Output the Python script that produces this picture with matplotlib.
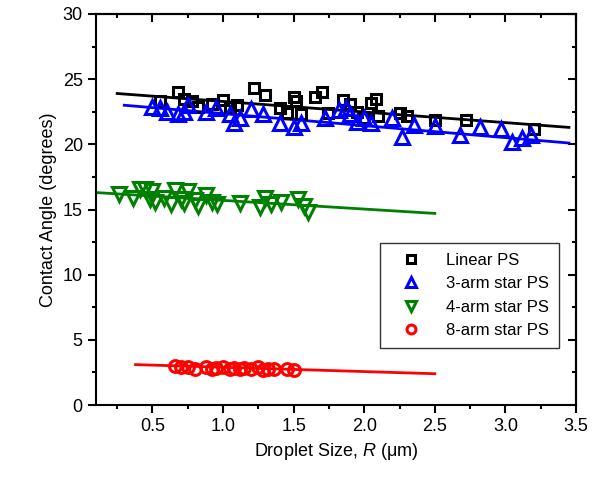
import matplotlib
matplotlib.use("Agg")
import matplotlib.pyplot as plt
import numpy as np

plt.rcParams['font.family'] = ['Liberation Sans', 'DejaVu Sans']
plt.rcParams['mathtext.fontset'] = 'custom'
plt.rcParams['mathtext.it'] = 'Liberation Sans:italic'

# Linear PS
lin_r = [0.55, 0.68, 0.72, 0.78, 0.82, 0.92, 1.0, 1.05, 1.1, 1.22, 1.3,
         1.4, 1.45, 1.5, 1.52, 1.55, 1.65, 1.7, 1.74, 1.85, 1.9, 1.95, 2.0,
         2.05, 2.08, 2.1, 2.25, 2.3, 2.5, 2.72, 3.2]
lin_a = [23.3, 24.0, 23.5, 23.3, 22.9, 23.1, 23.4, 22.9, 23.0, 24.3, 23.8,
         22.8, 22.4, 23.6, 23.3, 22.3, 23.6, 24.0, 22.4, 23.4, 23.1, 22.5, 22.0,
         23.2, 23.5, 22.2, 22.4, 22.2, 21.9, 21.9, 21.2]
lin_fit_r = [0.25, 3.45]
lin_fit_a = [23.9, 21.3]

# 3-arm star PS
s3_r = [0.5, 0.55, 0.6, 0.68, 0.72, 0.75, 0.88, 0.95, 1.05, 1.08, 1.12, 1.2,
        1.28, 1.4, 1.5, 1.55, 1.72, 1.82, 1.87, 1.9, 1.95, 2.0, 2.05, 2.2,
        2.27, 2.35, 2.5, 2.68, 2.82, 2.97, 3.05, 3.12, 3.18]
s3_a = [22.9, 22.8, 22.5, 22.3, 22.5, 23.0, 22.5, 22.8, 22.3, 21.6, 22.0, 22.7,
        22.3, 21.6, 21.3, 21.6, 22.0, 22.6, 22.8, 22.3, 21.7, 22.0, 21.6, 22.0,
        20.6, 21.5, 21.4, 20.7, 21.3, 21.2, 20.2, 20.5, 20.7]
s3_fit_r = [0.3, 3.45]
s3_fit_a = [23.0, 20.1]

# 4-arm star PS
s4_r = [0.26, 0.36, 0.41, 0.45, 0.48, 0.5, 0.52, 0.58, 0.63, 0.66, 0.7, 0.72,
        0.75, 0.8, 0.82, 0.88, 0.92, 0.96, 1.12, 1.26, 1.3, 1.34, 1.41, 1.53,
        1.57, 1.6]
s4_a = [16.2, 15.9, 16.6, 16.6, 15.8, 16.4, 15.6, 15.9, 15.4, 16.5, 15.8, 15.5,
        16.4, 15.7, 15.3, 16.1, 15.6, 15.4, 15.5, 15.2, 15.9, 15.4, 15.6, 15.8,
        15.3, 14.8]
s4_fit_r = [0.1, 2.5]
s4_fit_a = [16.3, 14.7]

# 8-arm star PS
s8_r = [0.66, 0.7, 0.75, 0.8, 0.88, 0.92, 0.95, 1.0, 1.05, 1.08, 1.12, 1.15,
        1.2, 1.25, 1.28, 1.32, 1.36, 1.45, 1.5]
s8_a = [3.0, 2.9, 2.95, 2.8, 2.9, 2.75, 2.85, 2.9, 2.8, 2.85, 2.75, 2.85,
        2.8, 2.9, 2.7, 2.8, 2.75, 2.8, 2.7]
s8_fit_r = [0.38, 2.5]
s8_fit_a = [3.1, 2.4]

fig = plt.figure(figsize=(6.09, 4.83), dpi=100)
ax = fig.add_axes([96 / 609, 1 - 405 / 483, 480 / 609, 391 / 483])

ax.plot(lin_fit_r, lin_fit_a, color='black', lw=2)
ax.plot(s3_fit_r, s3_fit_a, color='blue', lw=2)
ax.plot(s4_fit_r, s4_fit_a, color='green', lw=2)
ax.plot(s8_fit_r, s8_fit_a, color='red', lw=2)

ax.plot(lin_r, lin_a, ls='none', marker='s', ms=7.5, mfc='none', mec='black',
        mew=2.2, label='Linear PS')
ax.plot(s3_r, s3_a, ls='none', marker='^', ms=10.5, mfc='none', mec='blue',
        mew=2.2, label='3-arm star PS')
ax.plot(s4_r, s4_a, ls='none', marker='v', ms=10.5, mfc='none', mec='green',
        mew=2.2, label='4-arm star PS')
ax.plot(s8_r, s8_a, ls='none', marker='o', ms=8.5, mfc='none', mec='red',
        mew=2.2, label='8-arm star PS')

ax.set_xlim(0.1, 3.5)
ax.set_ylim(0, 30)
ax.set_xticks([0.5, 1.0, 1.5, 2.0, 2.5, 3.0, 3.5])
ax.set_xticks(np.arange(0.25, 3.5, 0.5), minor=True)
ax.set_yticks(range(0, 31, 5))
ax.set_yticks(np.arange(2.5, 30, 5), minor=True)
ax.tick_params(which='both', direction='out', labelsize=13, width=1.5)
ax.tick_params(which='major', length=6)
ax.tick_params(which='minor', length=3)

# mirrored ticks on top and right, pointing inward
ax2 = ax.secondary_xaxis('top')
ax2.set_xticks(ax.get_xticks())
ax2.set_xticks(ax.get_xticks(minor=True), minor=True)
ax2.tick_params(which='both', direction='in', labeltop=False, width=1.5)
ax2.tick_params(which='major', length=6)
ax2.tick_params(which='minor', length=3)
ax3 = ax.secondary_yaxis('right')
ax3.set_yticks(ax.get_yticks())
ax3.set_yticks(ax.get_yticks(minor=True), minor=True)
ax3.tick_params(which='both', direction='in', labelright=False, width=1.5)
ax3.tick_params(which='major', length=6)
ax3.tick_params(which='minor', length=3)
for a in (ax, ax2, ax3):
    for s in a.spines.values():
        s.set_linewidth(1.5)

ax.set_xlabel('Droplet Size, $R$ (μm)', fontsize=13)
ax.set_ylabel('Contact Angle (degrees)', fontsize=13)

leg = ax.legend(loc='lower right', bbox_to_anchor=(0.965, 0.146), fontsize=12,
                frameon=True, fancybox=False, edgecolor='black',
                markerscale=0.75, handletextpad=0.8, labelspacing=0.5,
                borderpad=0.6, handlelength=2.6, borderaxespad=0)
leg.get_frame().set_linewidth(1)

fig.savefig('out.png', dpi=100)
